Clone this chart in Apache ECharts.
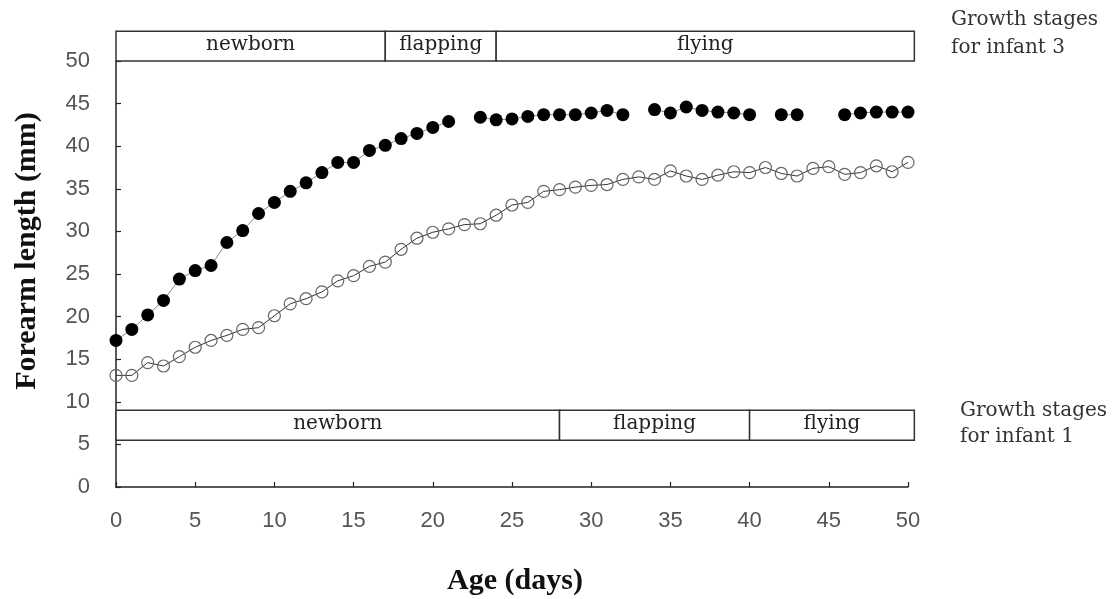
<!DOCTYPE html>
<html>
<head>
<meta charset="utf-8">
<script src="https://cdn.jsdelivr.net/npm/echarts@6/dist/echarts.min.js"></script>
<style>
  html, body { margin: 0; padding: 0; background: #fff; }
  #chart { width: 1118px; height: 599px; }
</style>
</head>
<body>
<div id="chart"></div>
<script>
// Age in days
const days = [0, 1, 2, 3, 4, 5, 6, 7, 8, 9, 10, 11, 12, 13, 14, 15, 16, 17, 18, 19, 20,
  21, 22, 23, 24, 25, 26, 27, 28, 29, 30, 31, 32, 33, 34, 35, 36, 37, 38, 39, 40,
  41, 42, 43, 44, 45, 46, 47, 48, 49, 50];

// Forearm length (mm), infant 3 (filled) — null where not measured
const infant3 = [17.2, 18.5, 20.2, 21.9, 24.4, 25.4, 26.0, 28.7, 30.1, 32.1, 33.4,
  34.7, 35.7, 36.9, 38.1, 38.1, 39.5, 40.1, 40.9, 41.5, 42.2,
  42.9, null, 43.4, 43.1, 43.2, 43.5, 43.7, 43.7, 43.7, 43.9,
  44.2, 43.7, null, 44.3, 43.9, 44.6, 44.2, 44.0, 43.9, 43.7,
  null, 43.7, 43.7, null, null, 43.7, 43.9, 44.0, 44.0, 44.0];

// Forearm length (mm), infant 1 (open)
const infant1 = [13.1, 13.1, 14.6, 14.2, 15.3, 16.4, 17.2, 17.8, 18.5, 18.7, 20.1,
  21.5, 22.1, 22.9, 24.2, 24.8, 25.9, 26.4, 27.9, 29.2, 29.9,
  30.3, 30.8, 30.9, 31.9, 33.1, 33.4, 34.7, 34.9, 35.2, 35.4,
  35.5, 36.1, 36.4, 36.1, 37.1, 36.5, 36.1, 36.6, 37.0, 36.9,
  37.5, 36.8, 36.5, 37.4, 37.6, 36.7, 36.9, 37.7, 37.0, 38.1];

// Growth stages: [label, first day, last day]
const stagesInfant3 = [['newborn', 0, 17], ['flapping', 17, 24], ['flying', 24, 50.4]];
const stagesInfant1 = [['newborn', 0, 28], ['flapping', 28, 40], ['flying', 40, 50.4]];

// Axis ticks
const xTicks = [0, 5, 10, 15, 20, 25, 30, 35, 40, 45, 50];
const yTicks = [0, 5, 10, 15, 20, 25, 30, 35, 40, 45, 50];

const chart = echarts.init(document.getElementById('chart'), null, { renderer: 'canvas' });

const pairs = arr => days.map((d, i) => [d, arr[i]]);

// Draws one row of stage boxes between yLow and yHigh (in data units)
function stageBand(stages, yLow, yHigh) {
  return {
    type: 'custom',
    clip: false,
    silent: true,
    z: 5,
    data: stages.map(s => [s[1], s[2], s[0]]),
    renderItem: function (params, api) {
      const p0 = api.coord([api.value(0), yHigh]);
      const p1 = api.coord([api.value(1), yLow]);
      const w = p1[0] - p0[0];
      const h = p1[1] - p0[1];
      return {
        type: 'group',
        children: [
          {
            type: 'rect',
            shape: { x: p0[0], y: p0[1], width: w, height: h },
            style: { fill: '#fff', stroke: '#333', lineWidth: 1.5 }
          },
          {
            type: 'text',
            style: {
              text: api.value(2),
              x: p0[0] + w / 2,
              y: p0[1] + h / 2 - 1,
              align: 'center',
              verticalAlign: 'middle',
              font: '20px "DejaVu Serif"',
              fill: '#222'
            }
          }
        ]
      };
    }
  };
}

const tickFont = { color: '#555', fontSize: 22, fontFamily: 'Liberation Sans' };

const option = {
  backgroundColor: '#fff',
  animation: false,
  grid: { left: 116, top: 61, width: 792, height: 426, containLabel: false },
  xAxis: {
    type: 'value',
    min: xTicks[0],
    max: xTicks[xTicks.length - 1],
    interval: 5,
    axisLine: { show: true, lineStyle: { color: '#222', width: 1.5 } },
    axisTick: { show: true, inside: true, length: 5, lineStyle: { color: '#222', width: 1.2 } },
    axisLabel: Object.assign({ margin: 23 }, tickFont),
    splitLine: { show: false }
  },
  yAxis: {
    type: 'value',
    min: yTicks[0],
    max: yTicks[yTicks.length - 1],
    interval: 5,
    axisLine: { show: true, lineStyle: { color: '#222', width: 1.5 } },
    axisTick: { show: true, inside: true, length: 5, lineStyle: { color: '#222', width: 1.2 } },
    axisLabel: Object.assign({ margin: 26 }, tickFont),
    splitLine: { show: false }
  },
  series: [
    {
      name: 'infant 1',
      type: 'line',
      data: pairs(infant1),
      symbol: 'circle',
      symbolSize: 12,
      showSymbol: true,
      connectNulls: false,
      lineStyle: { color: '#333', width: 1 },
      itemStyle: { color: 'transparent', borderColor: '#666', borderWidth: 1.2 },
      z: 3
    },
    {
      name: 'infant 3',
      type: 'line',
      data: pairs(infant3),
      symbol: 'circle',
      symbolSize: 13,
      showSymbol: true,
      connectNulls: false,
      lineStyle: { color: '#888', width: 1 },
      itemStyle: { color: '#000', borderColor: '#000', borderWidth: 0 },
      z: 4
    },
    stageBand(stagesInfant3, 50, 53.5),
    stageBand(stagesInfant1, 5.5, 9)
  ],
  graphic: [
    {
      type: 'text',
      x: 27, y: 251,
      rotation: Math.PI / 2,
      style: {
        text: 'Forearm length (mm)',
        font: 'bold 30px "Liberation Serif"',
        fill: '#111',
        align: 'center',
        verticalAlign: 'middle'
      }
    },
    {
      type: 'text',
      x: 515, y: 581,
      style: {
        text: 'Age (days)',
        font: 'bold 30px "Liberation Serif"',
        fill: '#111',
        align: 'center',
        verticalAlign: 'middle'
      }
    },
    {
      type: 'text',
      left: 951, top: 6,
      style: {
        text: 'Growth stages\nfor infant 3',
        font: '20px "DejaVu Serif"',
        lineHeight: 28,
        fill: '#333'
      }
    },
    {
      type: 'text',
      left: 960, top: 398,
      style: {
        text: 'Growth stages\nfor infant 1',
        font: '20px "DejaVu Serif"',
        lineHeight: 26,
        fill: '#333'
      }
    }
  ]
};

chart.setOption(option);
</script>
</body>
</html>
